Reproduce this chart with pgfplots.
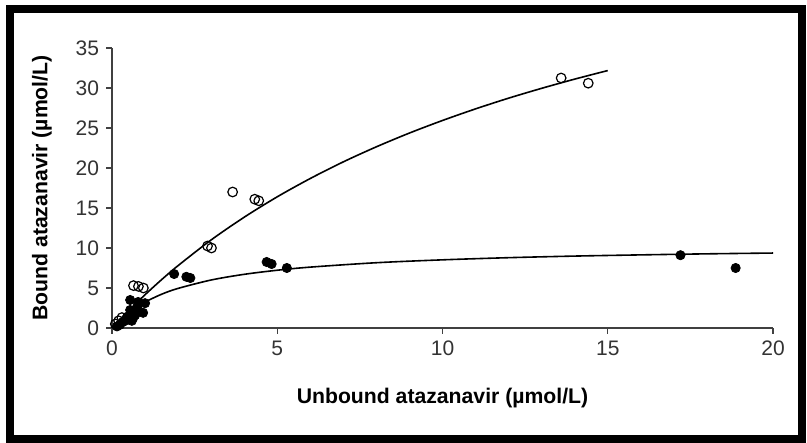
\documentclass[border=0pt]{standalone}
\usepackage{pgfplots}
\pgfplotsset{compat=1.18}
\usepackage{fontspec}
\setmainfont{Liberation Sans}
\begin{document}
\begin{tikzpicture}
\begin{axis}[
  at={(0,0)}, anchor=south west,
  scale only axis,
  width=330.5pt, height=140pt,
  xmin=0, xmax=20, ymin=0, ymax=35,
  axis lines*=left,
  axis line style={draw=black!75, line width=0.6pt},
  tick align=outside,
  major tick length=3pt,
  tick style={draw=black!75, line width=0.6pt},
  xtick={0,5,...,20}, ytick={0,5,...,35},
  ticklabel style={font=\fontsize{10.5}{12}\selectfont, text=black!80},
  /pgf/number format/assume math mode=true,
  xlabel={Unbound atazanavir (µmol/L)},
  ylabel={Bound atazanavir (µmol/L)},
  label style={font=\fontsize{10.6}{12}\selectfont\bfseries},
  xlabel style={at={(axis description cs:0.5,-0.25)}, anchor=center},
  ylabel style={at={(axis description cs:-0.106,0.5)}, anchor=center},
  clip=false,
]
% fitted curve, open circles
\addplot[black, line width=0.8pt, smooth] coordinates {
  (0,0) (0.25,1.10) (0.5,2.15) (1,4.16) (1.5,6.04) (2,7.80) (3,11.01)
  (4,13.85) (5,16.40) (6,18.69) (7,20.77) (8,22.65) (9,24.37) (10,25.94)
  (11,27.39) (12,28.73) (13,29.96) (14,31.11) (15,32.18)
};
% fitted curve, filled circles
\addplot[black, line width=0.8pt, smooth] coordinates {
  (0,0) (0.25,1.06) (0.5,1.93) (0.75,2.64) (1,3.25) (1.5,4.22) (2,4.95)
  (3,6.00) (4,6.71) (5,7.22) (6,7.61) (8,8.16) (10,8.52) (12,8.79)
  (14,8.99) (16,9.14) (18,9.27) (20,9.37)
};
% open circles
\addplot[only marks, mark=o, mark size=2.4pt, black, mark options={line width=0.6pt, fill=white}] coordinates {
  (13.59,31.25) (14.41,30.6) (3.65,17.0) (4.32,16.1) (4.44,15.9)
  (2.89,10.25) (3.01,10.0) (0.65,5.3) (0.8,5.2) (0.95,5.0)
  (0.1,0.5) (0.2,0.9) (0.3,1.3)
};
% filled circles
\addplot[only marks, mark=*, mark size=2.3pt, black] coordinates {
  (17.2,9.1) (18.87,7.5) (4.68,8.25) (4.83,8.0) (5.29,7.5)
  (1.88,6.75) (2.25,6.4) (2.37,6.25)
  (0.55,3.5) (0.79,3.25) (1.0,3.1) (0.55,2.25) (0.79,2.0) (0.94,1.9)
  (0.46,1.4) (0.64,1.25) (0.33,0.75) (0.24,0.4) (0.15,0.2) (0.76,2.6)
  (0.45,1.0) (0.6,0.9) (0.7,1.6)
};
\end{axis}
% outer frame
\useasboundingbox (-56pt,-57.5pt) rectangle (347.5pt,164pt);
\draw[black, line width=4pt] (-51pt,-55.5pt) rectangle (345pt,159.5pt);
\end{tikzpicture}
\end{document}
